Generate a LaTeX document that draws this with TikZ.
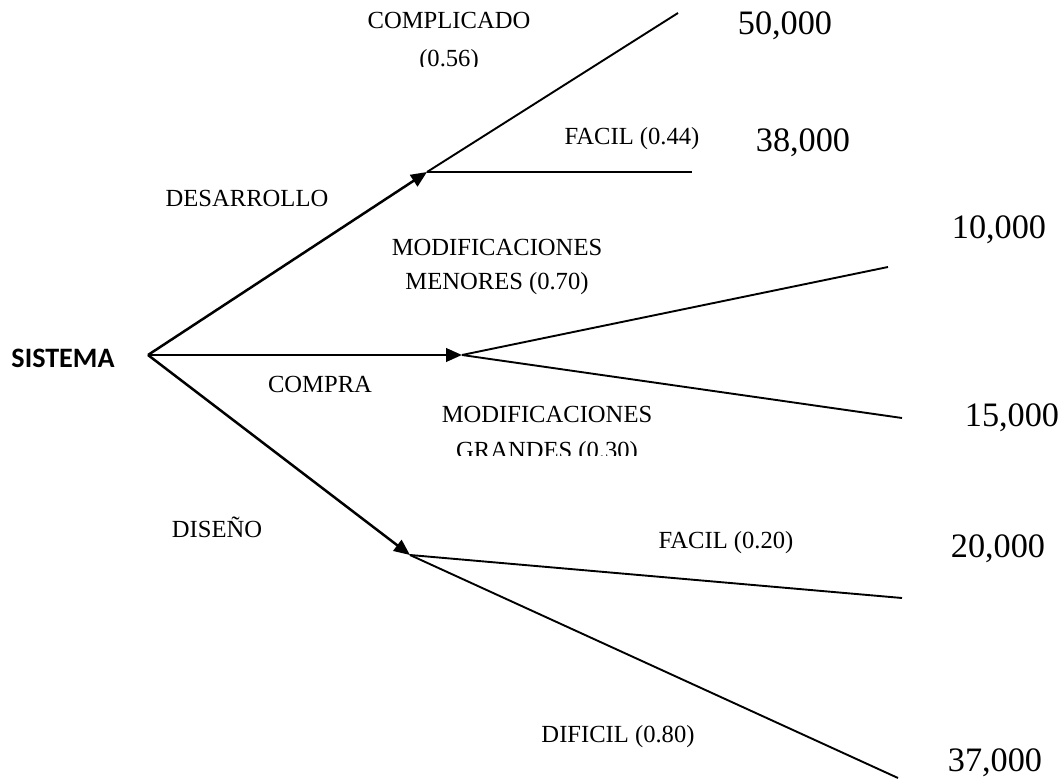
\documentclass[tikz,border=0pt]{standalone}
\usepackage{fontspec}
\setmainfont{Liberation Serif}
\newfontfamily\rootfont{Carlito}
\usetikzlibrary{arrows.meta}

\tikzset{
  branch/.style={line width=0.05cm, -{Triangle[length=0.32cm,width=0.27cm]}},
  twig/.style={line width=0.038cm},
  lbl/.style={font=\fontsize{14}{19}\selectfont, align=center, inner sep=0pt},
  pay/.style={font=\fontsize{19.5}{23}\selectfont, inner sep=0pt},
}

\begin{document}
\begin{tikzpicture}[x=0.02cm,y=-0.02cm]
\useasboundingbox (0,0) rectangle (1058,780);
% Root and decision points
\node[font=\rootfont\bfseries\fontsize{16}{19}\selectfont, inner sep=0pt] (sis) at (63,358) {SISTEMA};
\coordinate (s) at (148,355);
\coordinate (des) at (427,172);
\coordinate (com) at (462,355);
\coordinate (dis) at (410,555);
% Leaf ends
\coordinate (e1) at (678,13);
\coordinate (e2) at (692,172);
\coordinate (e3) at (888,267);
\coordinate (e4) at (902,418);
\coordinate (e5) at (902,598);
\coordinate (e6) at (898,778);
% Main branches
\draw[branch] (s) -- (des);
\draw[branch] (s) -- (com);
\draw[branch] (s) -- (dis);
% Outcomes
\draw[twig] (des) -- (e1);
\draw[twig] (des) -- (e2);
\draw[twig] (com) -- (e3);
\draw[twig] (com) -- (e4);
\draw[twig] (dis) -- (e5);
\draw[twig] (dis) -- (e6);
% Branch labels
\node[lbl] (ldes) at (247,198) {DESARROLLO};
\node[lbl] (lcom) at (320,384) {COMPRA};
\node[lbl] (ldis) at (217,527) {DISEÑO};
\begin{scope}
\clip (340,0) rectangle (560,67);
\node[lbl] (lcomp) at (449,42) {COMPLICADO\\[3pt](0.56)};
\end{scope}
\node[lbl] (lfac1) at (632,139) {FACIL (0.44)};
\node[lbl] (lmen) at (497,267) {MODIFICACIONES\\MENORES (0.70)};
\begin{scope}
\clip (440,390) rectangle (660,455);
\node[lbl] (lgra) at (547,435) {MODIFICACIONES\\[2pt]GRANDES (0.30)};
\end{scope}
\node[lbl] (lfac2) at (726,543) {FACIL (0.20)};
\node[lbl] (ldif) at (618,737) {DIFICIL (0.80)};
% Payoffs
\node[pay] (p1) at (785,26) {50,000};
\node[pay] (p2) at (803,143) {38,000};
\node[pay] (p3) at (999,230) {10,000};
\node[pay] (p4) at (1012,418) {15,000};
\node[pay] (p5) at (998,549) {20,000};
\node[pay] (p6) at (995,763) {37,000};
\end{tikzpicture}
\end{document}
